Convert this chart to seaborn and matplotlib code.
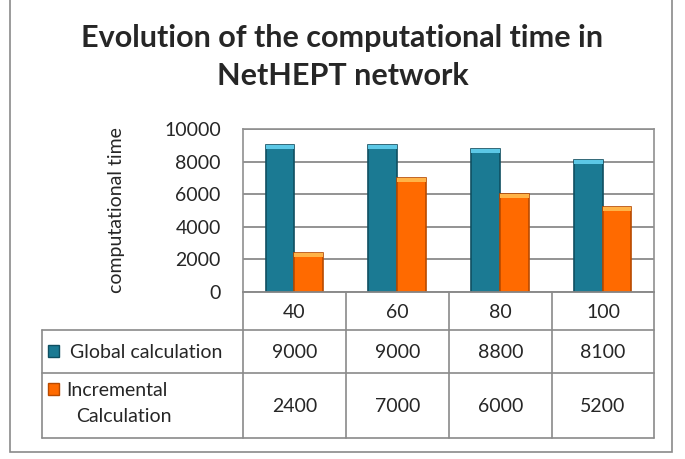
import numpy as np
import pandas as pd
import matplotlib
matplotlib.use("Agg")
import matplotlib.pyplot as plt
import seaborn as sns
from matplotlib.patches import Rectangle

# data
categories = ["40", "60", "80", "100"]
series = ["Global calculation", "Incremental\nCalculation"]
global_calc = [9000, 9000, 8800, 8100]
incremental_calc = [2400, 7000, 6000, 5200]
yticks = [0, 2000, 4000, 6000, 8000, 10000]

colors = ["#1b7a93", "#ff6a00"]
edges = ["#0f4f61", "#b84a00"]
caps = ["#5cc8e6", "#ffb347"]

df = pd.DataFrame({
    "n": categories * 2,
    "time": global_calc + incremental_calc,
    "series": [series[0]] * 4 + [series[1]] * 4,
})

sns.set_style("white")
plt.rcParams["font.family"] = ["Lato", "DejaVu Sans"]

W, H = 685, 459
fig = plt.figure(figsize=(6.85, 4.59), dpi=100)
ax = fig.add_axes([243 / W, 1 - 292 / H, 411 / W, 163 / H])

sns.barplot(data=df, x="n", y="time", hue="series", palette=colors,
            saturation=1, width=0.56, legend=False, ax=ax, zorder=3)
for cont, ec, cc in zip(ax.containers, edges, caps):
    for bar in cont:
        bar.set_edgecolor(ec)
        bar.set_linewidth(1.2)
        # lighter cap on top of each bar (3D look)
        ax.add_patch(Rectangle((bar.get_x(), bar.get_height() - 250), bar.get_width(), 250,
                               facecolor=cc, edgecolor="none", zorder=4))

ax.set_ylim(0, 10000)
ax.set_yticks(yticks)
ax.set_yticklabels([str(t) for t in yticks], fontsize=14)
ax.tick_params(axis="y", length=0, pad=16)
ax.set_xticks([])
ax.set_xlabel("")
ax.set_ylabel("computational time", fontsize=14, labelpad=28)
ax.grid(axis="y", color="#808080", linewidth=1.2, zorder=0)
for s in ax.spines.values():
    s.set_color("#909090")
    s.set_linewidth(1.2)

# data table under the plot, drawn in pixel units
tax = fig.add_axes([0, 0, 1, 1], facecolor="none")
tax.set_xlim(0, W)
tax.set_ylim(H, 0)
tax.axis("off")
line_kw = dict(color="#8a8a8a", linewidth=1.2)
col_x = [243, 346, 449, 552, 654]
row_y = [292, 330, 373, 438]
left = 42
# horizontal lines
tax.plot([col_x[0], col_x[-1]], [row_y[0], row_y[0]], **line_kw)
for y in row_y[1:]:
    tax.plot([left, col_x[-1]], [y, y], **line_kw)
# vertical lines
for x in col_x:
    tax.plot([x, x], [row_y[0], row_y[-1]], **line_kw)
tax.plot([left, left], [row_y[1], row_y[-1]], **line_kw)

for i, c in enumerate(categories):
    xc = (col_x[i] + col_x[i + 1]) / 2
    tax.text(xc, (row_y[0] + row_y[1]) / 2 + 1, c, ha="center", va="center", fontsize=14)
    tax.text(xc, (row_y[1] + row_y[2]) / 2 + 1, str(global_calc[i]), ha="center", va="center", fontsize=14)
    tax.text(xc, (row_y[2] + row_y[3]) / 2 + 1, str(incremental_calc[i]), ha="center", va="center", fontsize=14)

tax.text(70, (row_y[1] + row_y[2]) / 2 + 1, "Global calculation", ha="left", va="center", fontsize=14)
tax.text(66, 391, "Incremental", ha="left", va="center", fontsize=14)
tax.text(76, 417, "Calculation", ha="left", va="center", fontsize=14)

# legend keys
for y0, fc, ec in [(345, colors[0], edges[0]), (383, colors[1], edges[1])]:
    tax.add_patch(Rectangle((48, y0), 11, 12, facecolor=fc, edgecolor=ec, linewidth=1))

fig.text(0.5, 1 - 38 / H, "Evolution of the computational time in",
         ha="center", va="center", fontsize=22, fontweight="bold")
fig.text(0.5, 1 - 76 / H, "NetHEPT network",
         ha="center", va="center", fontsize=22, fontweight="bold")

# outer chart border
tax.add_patch(Rectangle((10, -5), 662, 457, fill=False, edgecolor="#8a8a8a", linewidth=1.2))

fig.savefig("out.png", dpi=100)
